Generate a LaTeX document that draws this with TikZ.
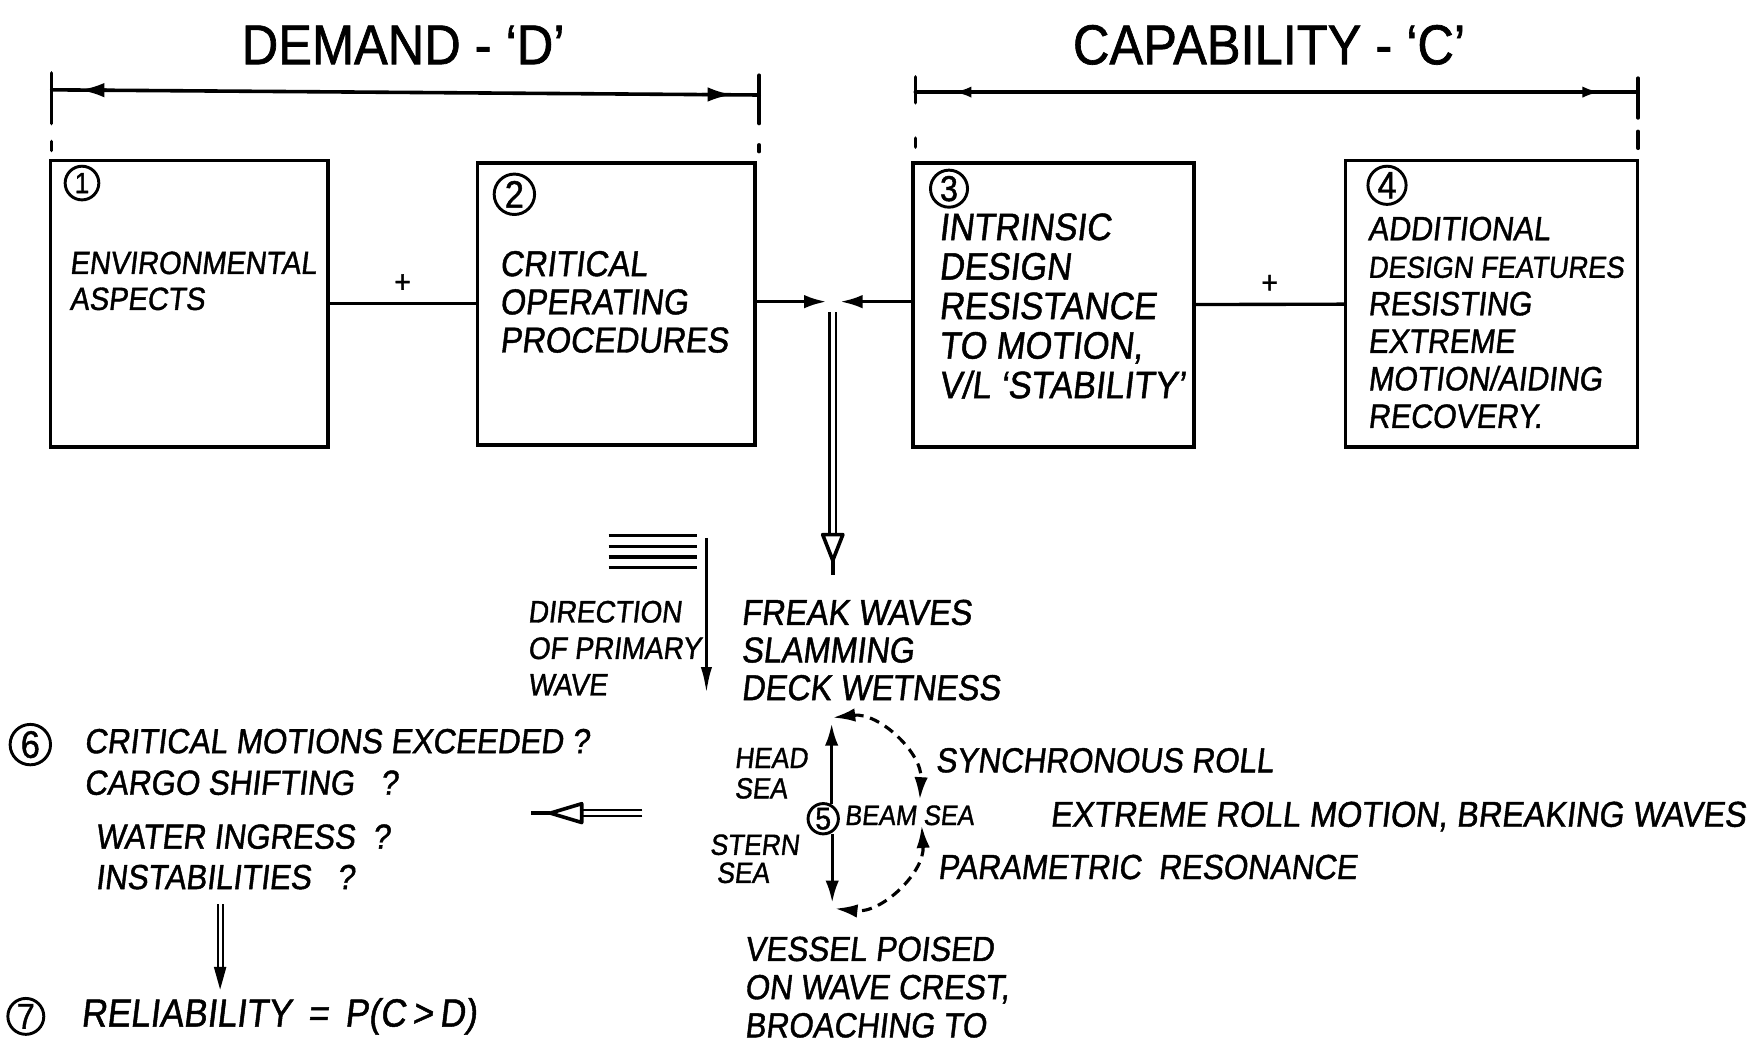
\documentclass[tikz,border=0pt]{standalone}
\usepackage{fontspec}
\newfontfamily\hand[FakeSlant=0.12,FakeStretch=0.9,FakeBold=1.2]{Liberation Sans}
\newfontfamily\handup[FakeStretch=0.9,FakeBold=1.2]{Liberation Sans}
\usetikzlibrary{arrows.meta}
\newcommand{\fs}[2]{\fontsize{#1}{#2}\selectfont}
\begin{document}
\begin{tikzpicture}[x=0.5pt,y=-0.5pt,
  every node/.style={inner sep=0pt,outer sep=0pt},
  box/.style={draw,line width=1.6pt,anchor=north west},
  ln/.style={line width=1.5pt},
  bl/.style={line width=1.6pt,line cap=round},
  txt/.style={anchor=north west,align=left,font=\hand\fs{15.5}{16.75}},
  one/.style={anchor=west,font=\hand\fs{15.5}{18}},
  ttl/.style={font=\handup\fs{25}{30}},
  num/.style={circle,draw,line width=1.3pt,minimum size=15pt,font=\handup\fs{15}{17}},
  tip/.style={-{Latex[length=10pt,width=6pt]}},
  dtip/.style={{Latex[length=10pt,width=6pt]}-{Latex[length=10pt,width=6pt]}},
]
\useasboundingbox (0,0) rectangle (1568,929);

% titles
\node[ttl] (dem) at (359,40) {DEMAND - ‘D’};
\node[ttl] (cap) at (1130,40) {CAPABILITY - ‘C’};

% demand bracket
\draw[bl] (46,65) -- (46,110);
\draw[bl] (46,126) -- (46,134);
\draw[bl] (46,80) -- (676,84.6);
\draw[bl] (676,67) -- (676,110);
\draw[bl] (676,129) -- (676,135);
\draw[ln,-{Latex[length=11pt,width=6.5pt]}] (95,80.3) -- (71,80.2);
\draw[ln,-{Latex[length=11pt,width=6.5pt]}] (625,84.1) -- (652,84.3);

% capability bracket
\draw[bl] (815,68.5) -- (815,91.5);
\draw[bl] (815,123) -- (815,131);
\draw[bl] (815,82) -- (1458.6,82);
\draw[bl] (1458.6,69.6) -- (1458.6,105);
\draw[bl] (1458.6,117) -- (1458.6,132);
\draw[ln,-{Latex[length=8pt,width=5pt]}] (875,82) -- (849,82);
\draw[ln,-{Latex[length=8pt,width=5pt]}] (1400,82) -- (1425,82);

% boxes
\node[box,minimum width=123.5pt,minimum height=127.5pt] (b1) at (45,143) {};
\node[box,minimum width=123.5pt,minimum height=125.5pt] (b2) at (425,145) {};
\node[box,minimum width=125pt,minimum height=126.5pt] (b3) at (813,145) {};
\node[box,minimum width=130pt,minimum height=127.5pt] (b4) at (1198,143) {};

\node[num,font=\handup\fs{13}{15}] (n1) at (73,163) {1};
\node[num,minimum size=18pt,font=\handup\fs{17}{19}] (n2) at (458,173) {2};
\node[num,minimum size=16.5pt,font=\handup\fs{16}{18}] (n3) at (845,168) {3};
\node[num,minimum size=17pt,font=\handup\fs{17}{19}] (n4) at (1235,165) {4};

\node[txt,font=\hand\fs{14.3}{16}] (t1) at (62,224) {ENVIRONMENTAL\\ASPECTS};
\node[txt,font=\hand\fs{16}{17}] (t2) at (445,223.5) {CRITICAL\\OPERATING\\PROCEDURES};
\node[txt,font=\hand\fs{17}{17.6}] (t3) at (836,190) {INTRINSIC\\DESIGN\\RESISTANCE\\TO MOTION,\\V/L ‘STABILITY’};
\node[txt,font=\hand\fs{15}{16.7}] (t4) at (1218,193) {ADDITIONAL\\{\fs{13.5}{16.7}DESIGN FEATURES}\\RESISTING\\EXTREME\\MOTION/AIDING\\RECOVERY.};

% connectors between boxes
\draw[ln] (b1) -- node[above=5pt,font=\handup\fs{14}{15}] (plus1) {+} (b2);
\draw[ln] (b3) -- node[above=5pt,font=\handup\fs{14}{15}] (plus2) {+} (b4);
\coordinate (mL) at (736,268.6);
\coordinate (mR) at (748,268.6);
\draw[ln,tip] (b2.east |- mL) -- (mL);
\draw[ln,tip] (b3.west |- mR) -- (mR);

% double arrow down
\coordinate (dtop) at (741.5,278);
\coordinate (dtri) at (741.5,476);
\coordinate (dtip) at (741.5,499);
\coordinate (dend) at (741.5,512);
\draw[line width=1.1pt] ([xshift=-1.4pt]dtop) -- ([xshift=-1.4pt]dtri)
  ([xshift=1.4pt]dtop) -- ([xshift=1.4pt]dtri);
\draw[line width=1.6pt,line join=round] ([xshift=-4.5pt]dtri) -- ([xshift=4.5pt]dtri) -- (dtip) -- cycle;
\draw[line width=1.6pt] (dtip) -- (dend);

% wave symbol
\foreach \y in {477,486.5,496,505.5} \draw[line width=1.5pt] (542,\y) -- (621,\y);
\coordinate (wv1) at (629,479);
\coordinate (wv2) at (629,618);
\draw[ln,-{Latex[length=12pt,width=5pt]}] (wv1) -- (wv2);

\node[txt,font=\hand\fs{13.8}{16.25}] (dir) at (470,535) {DIRECTION\\OF PRIMARY\\WAVE};
\node[txt,font=\hand\fs{16}{16.75}] (freak) at (660,534) {FREAK WAVES\\SLAMMING\\DECK WETNESS};

% left block
\node[num,minimum size=18pt,font=\handup\fs{17}{19}] (n6) at (27,663) {6};
\node[txt,font=\hand\fs{15.5}{18.5}] (t6a) at (75,649) {CRITICAL MOTIONS EXCEEDED ?\\CARGO SHIFTING \ \ ?};
\node[txt,font=\hand\fs{15.5}{18}] (t6b) at (85,734) {WATER INGRESS \ ?\\INSTABILITIES \ \ ?};
\node[num,minimum size=16pt,font=\handup\fs{16}{18}] (n7) at (23,905) {7};
\node[one,font=\hand\fs{17.5}{20}] (t7) at (72,905) {RELIABILITY \,=\, P(C\,>\,D)};

% 6 -> 7 arrow
\coordinate (s67) at (196,805);
\coordinate (e67) at (196,881);
\draw[line width=0.9pt,double distance=1.4pt] (s67) -- ([yshift=9pt]e67);
\fill (e67) -- ([shift={(-2.8pt,10pt)}]e67) -- ([shift={(2.8pt,10pt)}]e67) -- cycle;

% left double arrow
\coordinate (lstart) at (572,724);
\coordinate (ltri) at (518,724);
\coordinate (ltip) at (490,724);
\coordinate (lend) at (473,724);
\draw[line width=1.1pt] ([yshift=-1.4pt]lstart) -- ([yshift=-1.4pt]ltri)
  ([yshift=1.4pt]lstart) -- ([yshift=1.4pt]ltri);
\draw[line width=1.6pt,line join=round] ([yshift=-4.2pt]ltri) -- ([yshift=4.2pt]ltri) -- (ltip) -- cycle;
\draw[line width=1.6pt] (ltip) -- (lend);

% sea directions
\node[num,minimum size=13.5pt,font=\handup\fs{14}{16}] (n5) at (733,729) {5};
\coordinate (headtip) at (740.5,644);
\coordinate (sterntip) at (741,804);
\draw[ln,tip] (n5.north -| headtip) -- (headtip);
\draw[ln,tip] (n5.south -| sterntip) -- (sterntip);
\coordinate (a1) at (741.5,639);
\coordinate (a2) at (819,712);
\coordinate (a3) at (820.7,735);
\coordinate (a4) at (743.5,809);
\draw[line width=1.4pt,dash pattern=on 4.5pt off 3pt,dtip] (a1) to[bend left=50] (a2);
\draw[line width=1.4pt,dash pattern=on 4.5pt off 3pt,dtip] (a3) to[bend left=50] (a4);

\node[txt,font=\hand\fs{13}{13.5}] (head) at (654,666) {HEAD\\SEA};
\node[txt,font=\hand\fs{13}{12.5}] (stern) at (632,743) {STERN\\\hspace*{3pt}SEA};
\node[one,font=\hand\fs{12.5}{14}] (beam) at (752,726) {BEAM SEA};
\node[one] (sync) at (833,677) {SYNCHRONOUS ROLL};
\node[one,font=\hand\fs{16}{18}] (extr) at (935,727) {EXTREME ROLL MOTION, BREAKING WAVES};
\node[one] (param) at (835,772) {PARAMETRIC \ RESONANCE};
\node[txt,font=\hand\fs{15.5}{17}] (vessel) at (663,834) {VESSEL POISED\\ON WAVE CREST,\\BROACHING TO};
\end{tikzpicture}
\end{document}
